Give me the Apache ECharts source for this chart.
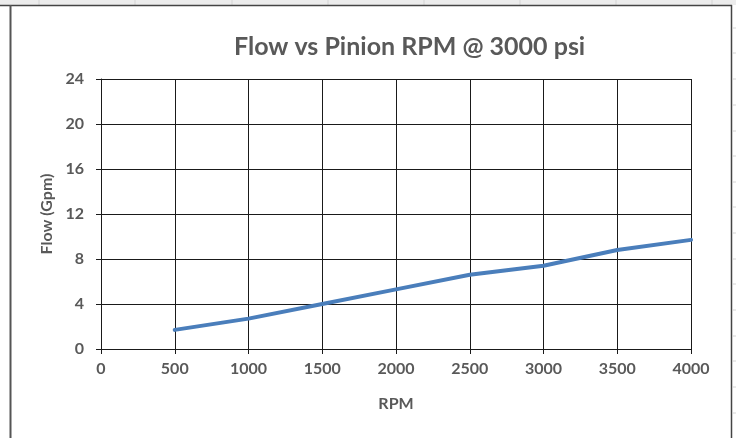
<!DOCTYPE html>
<html>
<head>
<meta charset="utf-8">
<script src="https://cdn.jsdelivr.net/npm/echarts@6/dist/echarts.min.js"></script>
<style>
html,body{margin:0;padding:0;background:#fff;}
#chart{width:736px;height:438px;}
</style>
</head>
<body>
<div id="chart"></div>
<script>
var titleText = 'Flow vs Pinion RPM @ 3000 psi';
var xAxisName = 'RPM';
var yAxisName = 'Flow (Gpm)';
var rpm = [500, 1000, 1500, 2000, 2500, 3000, 3500, 4000];
var flow = [1.7, 2.7, 4.0, 5.3, 6.6, 7.4, 8.8, 9.7];
var xTicks = {min: 0, max: 4000, interval: 500};
var yTicks = {min: 0, max: 24, interval: 4};

var chart = echarts.init(document.getElementById('chart'), null, {renderer: 'canvas'});
var font = 'Lato, "Open Sans", sans-serif';
var grey = '#595959';

// Excel sheet decoration (column/row lines and chart border)
var deco = [];
deco.push({type: 'rect', shape: {x: 0, y: 0, width: 736, height: 5}, style: {fill: '#ececec'}, silent: true});
[39, 135, 232, 328, 424, 520, 616, 712].forEach(function (x) {
  deco.push({type: 'line', shape: {x1: x, y1: 0, x2: x, y2: 5}, style: {stroke: '#d4d4d4', lineWidth: 1}, silent: true});
});
[28, 53, 79, 105, 131, 156, 182, 207, 233, 259, 284, 310, 336, 361, 387, 413].forEach(function (y) {
  deco.push({type: 'line', shape: {x1: 733, y1: y, x2: 736, y2: y}, style: {stroke: '#d4d4d4', lineWidth: 1}, silent: true});
});
deco.push({type: 'line', shape: {x1: 0, y1: 5.5, x2: 732, y2: 5.5}, style: {stroke: '#444', lineWidth: 1.5}, silent: true});
deco.push({type: 'line', shape: {x1: 10.5, y1: 5, x2: 10.5, y2: 438}, style: {stroke: '#555', lineWidth: 2}, silent: true});
deco.push({type: 'line', shape: {x1: 731.5, y1: 5, x2: 731.5, y2: 438}, style: {stroke: '#444', lineWidth: 1.5}, silent: true});

function plain(v) { return String(v); }

chart.setOption({
  animation: false,
  backgroundColor: '#ffffff',
  title: {
    text: titleText,
    left: 229,
    top: 29,
    textStyle: {fontFamily: font, fontSize: 25, fontWeight: 'bold', color: grey}
  },
  grid: {left: 101, right: 45, top: 79, bottom: 89, containLabel: false},
  xAxis: {
    type: 'value',
    min: xTicks.min, max: xTicks.max, interval: xTicks.interval,
    name: xAxisName, nameLocation: 'middle', nameGap: 47,
    nameTextStyle: {fontFamily: font, fontSize: 16, fontWeight: 'bold', color: grey},
    axisLine: {show: true, onZero: false, lineStyle: {color: '#1a1a1a', width: 1}},
    axisTick: {show: true, inside: false, length: 5, lineStyle: {color: '#1a1a1a'}},
    axisLabel: {fontFamily: font, fontSize: 16, fontWeight: 'bold', color: grey, margin: 12, formatter: plain},
    splitLine: {show: true, lineStyle: {color: '#1a1a1a', width: 1}}
  },
  yAxis: {
    type: 'value',
    min: yTicks.min, max: yTicks.max, interval: yTicks.interval,
    name: yAxisName, nameLocation: 'middle', nameGap: 44, nameRotate: 90,
    nameTextStyle: {fontFamily: font, fontSize: 16, fontWeight: 'bold', color: grey},
    axisLine: {show: true, lineStyle: {color: '#1a1a1a', width: 1}},
    axisTick: {show: true, inside: false, length: 5, lineStyle: {color: '#1a1a1a'}},
    axisLabel: {fontFamily: font, fontSize: 16, fontWeight: 'bold', color: grey, margin: 17, formatter: plain},
    splitLine: {show: true, lineStyle: {color: '#1a1a1a', width: 1}}
  },
  series: [{
    type: 'line',
    data: rpm.map(function (r, i) { return [r, flow[i]]; }),
    showSymbol: false,
    symbol: 'none',
    smooth: false,
    lineStyle: {color: '#4a7ebb', width: 4, cap: 'round', join: 'round'},
    z: 5
  }],
  graphic: deco
});
</script>
</body>
</html>
